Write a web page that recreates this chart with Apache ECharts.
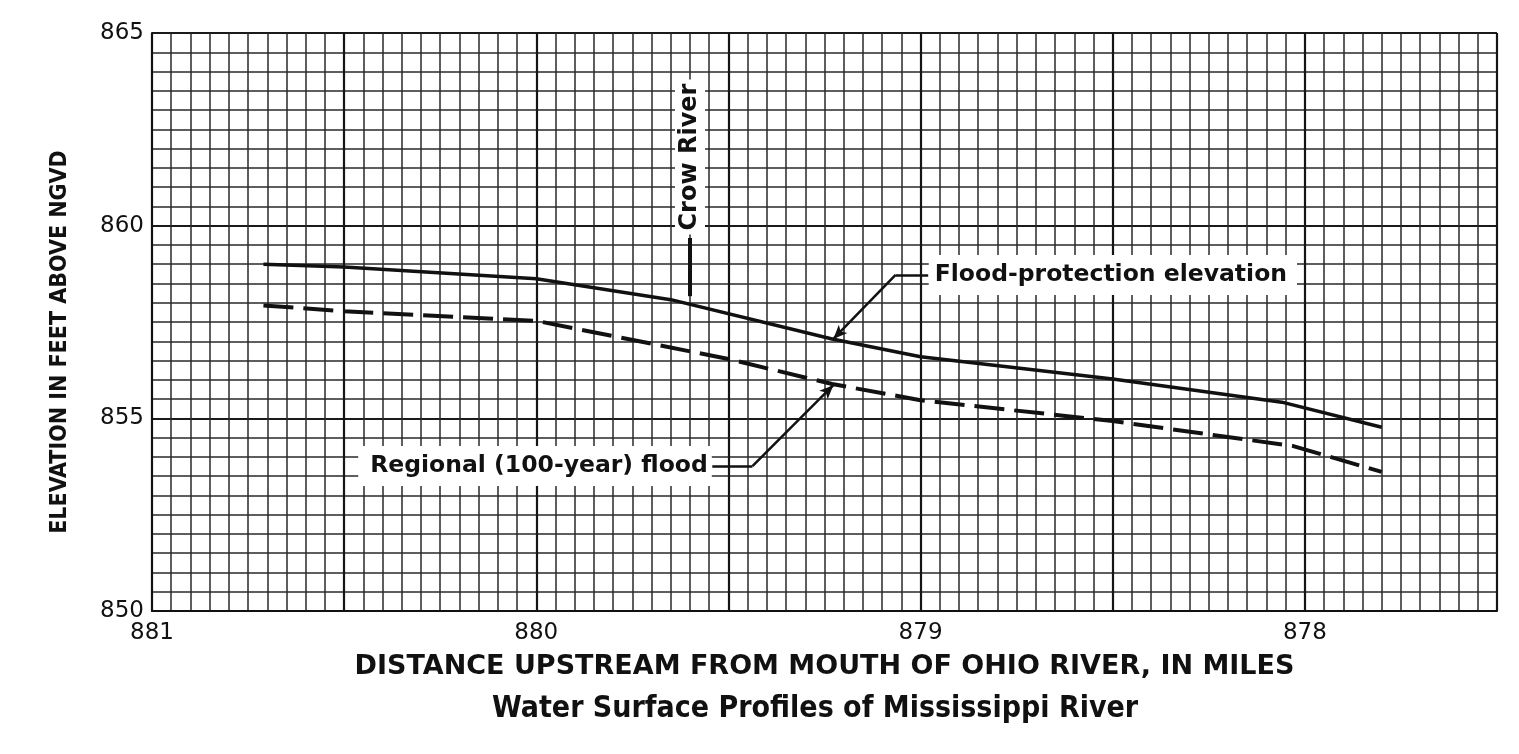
<!DOCTYPE html>
<html>
<head>
<meta charset="utf-8">
<script src="https://cdn.jsdelivr.net/npm/echarts@6/dist/echarts.min.js"></script>
<style>
  html, body { margin: 0; padding: 0; background: #fff; }
  #chart { width: 1519px; height: 754px; }
</style>
</head>
<body>
<div id="chart"></div>
<script>
// river miles upstream from mouth of Ohio River (axis runs 881 -> 877.5)
const floodProtectionMiles = [880.71, 880.5, 880.0, 879.65, 879.23, 879.0, 878.5, 878.06, 877.8];
const floodProtectionElev  = [859.00, 858.93, 858.62, 858.08, 857.06, 856.60, 856.02, 855.42, 854.77];

const regionalFloodMiles = [880.71, 880.5, 880.0, 879.5, 879.23, 879.0, 878.5, 878.03, 877.8];
const regionalFloodElev  = [857.93, 857.78, 857.53, 856.54, 855.89, 855.47, 854.93, 854.28, 853.61];

const xTickLabels = [881, 880, 879, 878];
const yTickLabels = [850, 855, 860, 865];

// annotation anchors (data coords)
const crowRiverMile = 879.60;
const crowRiverTick = [858.17, 859.68];
const crowRiverTextElev = 861.78;
const fpArrow = [[878.98, 858.72], [879.065, 858.72], [879.227, 857.06]];
const rfArrow = [[879.542, 853.76], [879.4375, 853.76], [879.227, 855.86]];

const toPairs = (xs, ys) => xs.map((x, i) => [x, ys[i]]);

const chart = echarts.init(document.getElementById('chart'));

const annoLabel = {
  color: '#111',
  fontFamily: 'DejaVu Sans',
  fontWeight: 'bold',
  fontSize: 23.5,
  backgroundColor: '#fff'
};

chart.setOption({
  backgroundColor: '#fff',
  animation: false,
  title: {
    text: 'Water Surface Profiles of Mississippi River',
    left: 487,
    top: 689,
    textStyle: {
      fontFamily: '"DejaVu Sans Condensed", "Liberation Sans Narrow", sans-serif',
      fontWeight: 'bold',
      fontSize: 30,
      color: '#111'
    }
  },
  grid: { left: 152, top: 33, right: 22, bottom: 143 },
  xAxis: {
    type: 'value',
    inverse: true,
    min: 877.5,
    max: 881,
    interval: 0.5,
    name: 'DISTANCE UPSTREAM FROM MOUTH OF OHIO RIVER, IN MILES',
    nameLocation: 'middle',
    nameGap: 42,
    nameTextStyle: {
      fontFamily: 'DejaVu Sans',
      fontWeight: 'bold',
      fontSize: 27,
      color: '#111'
    },
    axisLine: { show: true, lineStyle: { color: '#111', width: 2 } },
    axisTick: { show: false },
    axisLabel: {
      margin: 11,
      fontFamily: 'DejaVu Sans',
      fontSize: 23,
      color: '#111',
      formatter: v => (xTickLabels.indexOf(v) >= 0 ? String(v) : '')
    },
    splitLine: { show: true, lineStyle: { color: '#151515', width: 2.2 } },
    minorTick: { show: false, splitNumber: 10 },
    minorSplitLine: { show: true, lineStyle: { color: '#2a2a2a', width: 1.5 } }
  },
  yAxis: {
    type: 'value',
    min: 850,
    max: 865,
    interval: 5,
    name: 'ELEVATION IN FEET ABOVE NGVD',
    nameLocation: 'middle',
    nameGap: 80,
    nameRotate: 90,
    nameTextStyle: {
      fontFamily: '"DejaVu Sans Condensed", "Liberation Sans Narrow", sans-serif',
      fontWeight: 'bold',
      fontSize: 23,
      color: '#111',
      padding: [0, 40, 0, 0]
    },
    axisLine: { show: true, lineStyle: { color: '#111', width: 2 } },
    axisTick: { show: false },
    axisLabel: {
      margin: 8,
      fontFamily: 'DejaVu Sans',
      fontSize: 23,
      color: '#111',
      formatter: v => (yTickLabels.indexOf(v) >= 0 ? String(v) : '')
    },
    splitLine: { show: true, lineStyle: { color: '#1a1a1a', width: 1.8 } },
    minorTick: { show: false, splitNumber: 10 },
    minorSplitLine: { show: true, lineStyle: { color: '#2a2a2a', width: 1.5 } }
  },
  series: [
    {
      name: 'Flood-protection elevation',
      type: 'line',
      data: toPairs(floodProtectionMiles, floodProtectionElev),
      showSymbol: false,
      silent: true,
      z: 5,
      lineStyle: { color: '#111', width: 3.5 },
      markLine: {
        silent: true,
        symbol: 'none',
        animation: false,
        label: { show: false },
        lineStyle: { color: '#111', width: 2.5, type: 'solid' },
        data: [
          [{ coord: fpArrow[0] }, { coord: fpArrow[1] }],
          [{ coord: fpArrow[1] }, { coord: fpArrow[2], symbol: 'arrow', symbolSize: [9, 14] }],
          [{ coord: [crowRiverMile, crowRiverTick[0]] }, { coord: [crowRiverMile, crowRiverTick[1]], lineStyle: { width: 4 } }]
        ]
      },
      markPoint: {
        silent: true,
        symbol: 'rect',
        symbolSize: 1,
        itemStyle: { color: 'transparent' },
        data: [
          {
            coord: fpArrow[0],
            label: Object.assign({}, annoLabel, {
              show: true, position: 'right', distance: 0,
              padding: [8, 10, 8, 6],
              formatter: 'Flood-protection elevation'
            })
          },
          {
            coord: [crowRiverMile, crowRiverTextElev],
            label: Object.assign({}, annoLabel, {
              show: true, position: 'inside', rotate: 90,
              fontSize: 24,
              padding: [3, 4, 3, 4],
              formatter: 'Crow River'
            })
          }
        ]
      }
    },
    {
      name: 'Regional (100-year) flood',
      type: 'line',
      data: toPairs(regionalFloodMiles, regionalFloodElev),
      showSymbol: false,
      silent: true,
      z: 5,
      lineStyle: { color: '#111', width: 4, type: [30, 10] },
      markLine: {
        silent: true,
        symbol: 'none',
        animation: false,
        label: { show: false },
        lineStyle: { color: '#111', width: 2.5, type: 'solid' },
        data: [
          [{ coord: rfArrow[0] }, { coord: rfArrow[1] }],
          [{ coord: rfArrow[1] }, { coord: rfArrow[2], symbol: 'arrow', symbolSize: [9, 14] }]
        ]
      },
      markPoint: {
        silent: true,
        symbol: 'rect',
        symbolSize: 1,
        itemStyle: { color: 'transparent' },
        data: [
          {
            coord: rfArrow[0],
            label: Object.assign({}, annoLabel, {
              show: true, position: 'left', distance: 0,
              padding: [8, 4, 8, 12],
              formatter: 'Regional (100-year) flood'
            })
          }
        ]
      }
    }
  ]
});
</script>
</body>
</html>
